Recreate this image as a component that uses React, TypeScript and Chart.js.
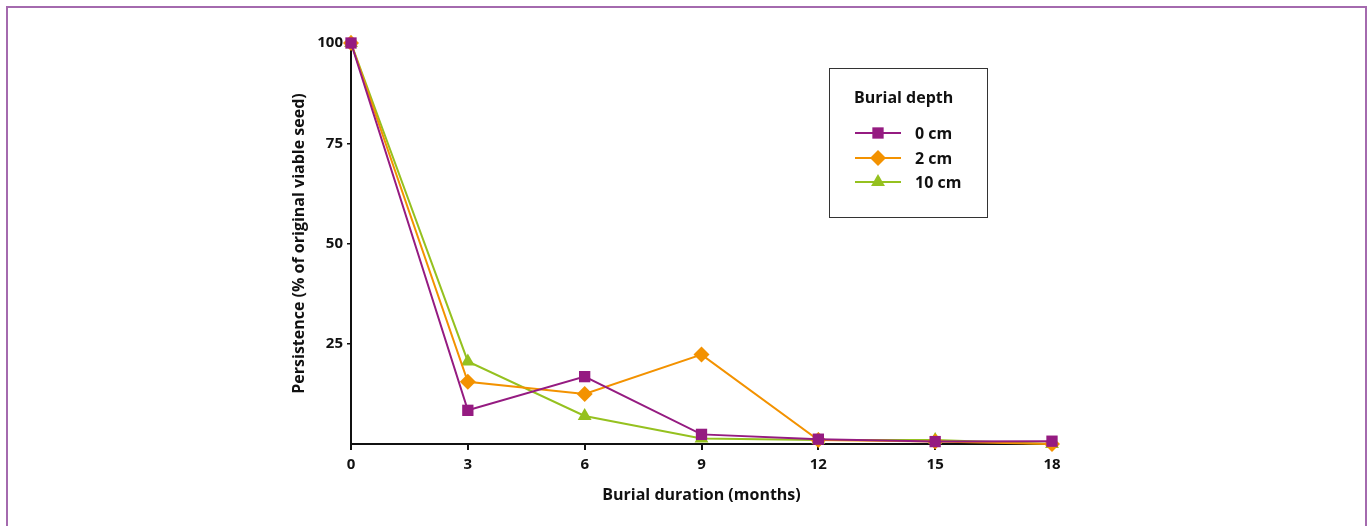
import React, { useEffect, useRef } from "react";
import { Chart, registerables } from "chart.js";

Chart.register(...registerables);

const months = [0, 3, 6, 9, 12, 15, 18];
const depth0cm = [100, 8.4, 16.8, 2.4, 1.2, 0.6, 0.7];
const depth2cm = [100, 15.5, 12.5, 22.3, 1.0, 0.6, 0];
const depth10cm = [100, 20.6, 7.0, 1.4, 1.0, 1.0, 0];
const seriesLabels = ["0 cm", "2 cm", "10 cm"];
const xTicks = [0, 3, 6, 9, 12, 15, 18];
const yTicks = [25, 50, 75, 100];

const PURPLE = "#951b81";
const ORANGE = "#f39200";
const GREEN = "#95c11f";
const FONT = "'Open Sans', sans-serif";

const framePlugin = {
  id: "frame",
  beforeDraw(chart: any) {
    const ctx = chart.ctx;
    ctx.save();
    ctx.strokeStyle = "#a46aae";
    ctx.lineWidth = 2;
    ctx.beginPath();
    ctx.moveTo(7, 530);
    ctx.lineTo(7, 7);
    ctx.lineTo(1366, 7);
    ctx.lineTo(1366, 530);
    ctx.stroke();
    ctx.restore();
  },
};

function drawMarker(ctx: CanvasRenderingContext2D, style: string, x: number, y: number, r: number) {
  ctx.beginPath();
  if (style === "rect") {
    const s = r * Math.SQRT1_2;
    ctx.rect(x - s, y - s, 2 * s, 2 * s);
  } else if (style === "rectRot") {
    ctx.moveTo(x, y - r);
    ctx.lineTo(x + r, y);
    ctx.lineTo(x, y + r);
    ctx.lineTo(x - r, y);
    ctx.closePath();
  } else {
    const a = (Math.PI * 2) / 3;
    ctx.moveTo(x, y - r);
    ctx.lineTo(x + Math.sin(a) * r, y - Math.cos(a) * r);
    ctx.lineTo(x - Math.sin(a) * r, y - Math.cos(a) * r);
    ctx.closePath();
  }
  ctx.fill();
}

const legendPlugin = {
  id: "boxLegend",
  afterDraw(chart: any) {
    const ctx = chart.ctx;
    ctx.save();
    ctx.strokeStyle = "#333";
    ctx.lineWidth = 1;
    ctx.strokeRect(829.5, 68.5, 158, 149);
    ctx.fillStyle = "#111";
    ctx.font = `bold 16px ${FONT}`;
    ctx.textBaseline = "middle";
    ctx.textAlign = "left";
    ctx.fillText("Burial depth", 854, 98);
    const ys = [133, 158, 182];
    chart.data.datasets.forEach((ds: any, i: number) => {
      const y = ys[i];
      ctx.strokeStyle = ds.borderColor;
      ctx.lineWidth = 2;
      ctx.beginPath();
      ctx.moveTo(855, y);
      ctx.lineTo(901, y);
      ctx.stroke();
      ctx.fillStyle = ds.backgroundColor;
      drawMarker(ctx, ds.pointStyle, 878, y, ds.pointRadius);
      ctx.fillStyle = "#111";
      ctx.font = `bold 16px ${FONT}`;
      ctx.fillText(ds.label, 915, y + 1);
    });
    ctx.restore();
  },
};

export default function App() {
  const ref = useRef<HTMLCanvasElement>(null);
  useEffect(() => {
    document.body.style.margin = "0";
    const mk = (label: string, data: number[], color: string, style: string) => ({
      label,
      data: months.map((m, i) => ({ x: m, y: data[i] })),
      borderColor: color,
      backgroundColor: color,
      pointStyle: style,
      pointRadius: 8,
      pointHoverRadius: 8,
      pointBorderWidth: 0,
      borderWidth: 2,
      tension: 0,
      clip: false as any,
    });
    const chart = new Chart(ref.current!, {
      type: "line",
      data: {
        datasets: [
          mk(seriesLabels[0], depth0cm, PURPLE, "rect"),
          mk(seriesLabels[1], depth2cm, ORANGE, "rectRot"),
          mk(seriesLabels[2], depth10cm, GREEN, "triangle"),
        ] as any,
      },
      options: {
        animation: false,
        responsive: false,
        events: [],
        layout: { padding: { left: 290, right: 319, top: 43, bottom: 0 } },
        plugins: { legend: { display: false }, tooltip: { enabled: false } },
        scales: {
          x: {
            type: "linear",
            min: 0,
            max: 18,
            afterBuildTicks(scale: any) {
              scale.ticks = xTicks.map((v) => ({ value: v }));
            },
            afterFit(scale: any) {
              scale.height = 82;
            },
            border: { display: true, color: "#111", width: 2 },
            grid: { drawOnChartArea: false, drawTicks: true, tickLength: 6, color: "#111", lineWidth: 2 },
            ticks: { color: "#111", font: { family: FONT, size: 15, weight: "bold" }, padding: 6 },
            title: {
              display: true,
              text: "Burial duration (months)",
              color: "#111",
              font: { family: FONT, size: 16, weight: "bold" },
              padding: { top: 0, bottom: 21 },
            },
          },
          y: {
            type: "linear",
            min: 0,
            max: 100,
            afterBuildTicks(scale: any) {
              scale.ticks = yTicks.map((v) => ({ value: v }));
            },
            afterFit(scale: any) {
              scale.width = 61;
            },
            border: { display: true, color: "#111", width: 2 },
            grid: { drawOnChartArea: false, drawTicks: true, tickLength: 4, color: "#111", lineWidth: 1.5 },
            ticks: { color: "#111", font: { family: FONT, size: 15, weight: "bold" }, padding: 4 },
            title: {
              display: true,
              text: "Persistence (% of original viable seed)",
              color: "#111",
              font: { family: FONT, size: 16, weight: "bold" },
              padding: 0,
            },
          },
        },
      },
      plugins: [framePlugin, legendPlugin],
    });
    return () => chart.destroy();
  }, []);
  return <canvas ref={ref} width={1371} height={526} style={{ display: "block" }} />;
}
